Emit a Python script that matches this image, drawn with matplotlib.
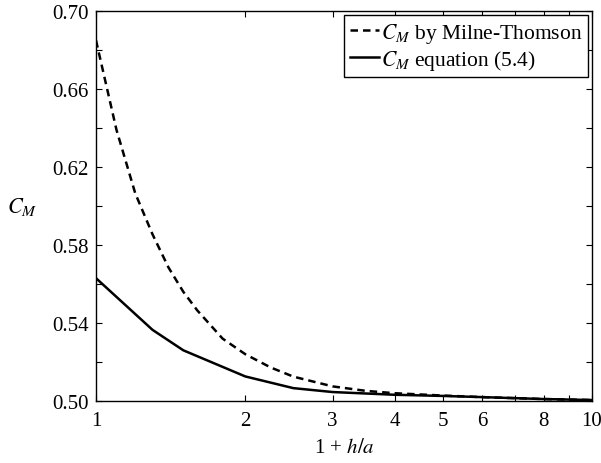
import numpy as np
import matplotlib
matplotlib.use("Agg")
import matplotlib.pyplot as plt
from matplotlib.ticker import FixedLocator, NullFormatter

plt.rcParams['font.family'] = ['Liberation Serif', 'DejaVu Serif']
plt.rcParams['mathtext.fontset'] = 'stix'

# C_M by Milne-Thomson (dashed)
x_milne = [1.0, 1.1, 1.2, 1.3, 1.4, 1.5, 1.6, 1.8, 2.0, 2.25, 2.5, 3.0, 3.5, 4.0, 5.0, 6.0, 8.0, 10.0]
cm_milne = [0.685, 0.639, 0.6065, 0.5855, 0.5685, 0.556, 0.5465, 0.532, 0.524, 0.5172, 0.5125,
            0.5075, 0.5052, 0.504, 0.5028, 0.502, 0.501, 0.5005]

# C_M equation (5.4) (solid)
x_eq = [1.0, 1.3, 1.5, 2.0, 2.5, 3.0, 4.0, 5.0, 6.0, 8.0, 10.0]
cm_eq = [0.563, 0.5365, 0.526, 0.5126, 0.5066, 0.5046, 0.5032, 0.5026, 0.502, 0.501, 0.5005]

xticks = [1, 2, 3, 4, 5, 6, 7, 8, 9, 10]
xticklabels = ['1', '2', '3', '4', '5', '6', '', '8', '', '10']
yticks = [0.50, 0.54, 0.58, 0.62, 0.66, 0.70]
yminor = [0.52, 0.56, 0.60, 0.64, 0.68]

fig = plt.figure(figsize=(6.01, 4.64), dpi=100)
ax = fig.add_axes([0.1597, 0.1336, 0.8253, 0.8405])

ax.plot(x_milne, cm_milne, color='black', lw=1.8, ls=(0, (3, 2)), label=r'$C_M$ by Milne-Thomson')
ax.plot(x_eq, cm_eq, color='black', lw=1.8, label=r'$C_M$ equation (5.4)')

ax.set_xscale('log')
ax.set_xlim(1, 10)
ax.set_ylim(0.50, 0.70)
ax.xaxis.set_major_locator(FixedLocator(xticks))
ax.set_xticklabels(xticklabels)
ax.xaxis.set_minor_locator(FixedLocator([]))
ax.xaxis.set_minor_formatter(NullFormatter())
ax.yaxis.set_major_locator(FixedLocator(yticks))
ax.yaxis.set_minor_locator(FixedLocator(yminor))
ax.set_yticklabels([f'{v:.2f}' for v in yticks])

ax.tick_params(which='both', direction='in', top=True, right=True, labelsize=15, length=4, width=0.8)
ax.tick_params(axis='x', pad=7)
ax.tick_params(axis='y', pad=5)
for s in ax.spines.values():
    s.set_linewidth(1.0)

ax.set_xlabel(r'1 + $h/a$', fontsize=15, labelpad=6)
ax.set_ylabel(r'$C_M$', fontsize=16, rotation=0, labelpad=22, va='center')

leg = ax.legend(loc='upper right', fontsize=15.5, frameon=True, fancybox=False,
                edgecolor='black', framealpha=1, handlelength=1.35, handletextpad=0.1,
                borderpad=0.25, labelspacing=0.15, borderaxespad=0.2)
leg.get_frame().set_linewidth(1.0)

fig.savefig('out.png', dpi=100)
